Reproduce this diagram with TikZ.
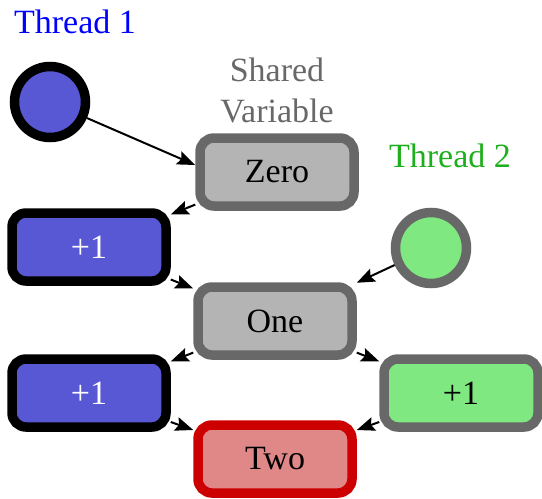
\documentclass[tikz,border=0pt]{standalone}
\usepackage{fontspec}
\setmainfont{Liberation Serif}
\usetikzlibrary{arrows.meta,positioning}

\definecolor{bluefill}{RGB}{88,88,212}
\definecolor{greenfill}{RGB}{128,232,128}
\definecolor{grayfill}{RGB}{180,180,180}
\definecolor{grayline}{RGB}{104,104,104}
\definecolor{redfill}{RGB}{224,136,136}
\definecolor{redline}{RGB}{204,0,0}
\definecolor{greentext}{RGB}{30,175,30}

\tikzset{
  big/.style={font=\rmfamily\fontsize{34}{41}\selectfont},
  box/.style={big, rectangle, rounded corners=14pt, line width=9.5pt,
    minimum width=154pt, minimum height=68pt},
  dot/.style={circle, line width=9.5pt, minimum size=71pt},
  tone/.style={-{Stealth[length=18pt,width=14pt,inset=3pt]}, line width=2pt},
}

\begin{document}
\begin{tikzpicture}[x=1pt,y=-1pt]
  \useasboundingbox (0,0) rectangle (542,499);

  % shared variable column
  \node[box, draw=grayline, fill=grayfill] (zero) at (277,172) {Zero};
  \node[box, draw=grayline, fill=grayfill] (one) at (275,321) {One};
  \node[box, draw=redline, fill=redfill] (two) at (275,459) {Two};
  \node[big, text=grayline, align=center, above=7pt of zero] (var) {Shared\\Variable};

  % thread 1
  \node[dot, draw=black, fill=bluefill] (t1) at (50,102) {};
  \node[big, text=blue, anchor=base] (t1name) at (75,33) {Thread 1};
  \node[box, draw=black, fill=bluefill, text=white] (t1a) at (89,247) {+1};
  \node[box, draw=black, fill=bluefill, text=white] (t1b) at (89,393) {+1};

  % thread 2
  \node[dot, draw=grayline, fill=greenfill] (t2) at (431,248) {};
  \node[big, text=greentext, anchor=base] (t2name) at (450,167) {Thread 2};
  \node[box, draw=grayline, fill=greenfill] (t2a) at (461,393) {+1};

  \draw[tone] (t1) -- ([yshift=7pt]zero.west);
  \draw[tone] (zero) -- (t1a);
  \draw[tone] (t1a) -- (one);
  \draw[tone] (t2) -- (one);
  \draw[tone] (one) -- (t1b);
  \draw[tone] (one) -- (t2a);
  \draw[tone] (t1b) -- (two);
  \draw[tone] (t2a) -- (two);
\end{tikzpicture}
\end{document}
